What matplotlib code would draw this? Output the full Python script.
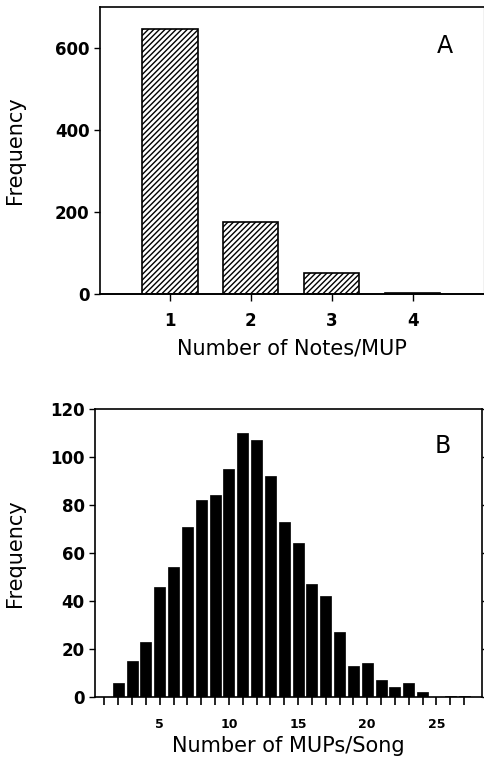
import numpy as np
import matplotlib
matplotlib.use("Agg")
import matplotlib.pyplot as plt

# panel A: notes per MUP
notes = [1, 2, 3, 4]
notes_freq = [646, 176, 51, 2]

# panel B: MUPs per song
mups = list(range(2, 28))
mups_freq = [6, 15, 23, 46, 54, 71, 82, 84, 95, 110, 107, 92, 73, 64,
             47, 42, 27, 13, 14, 7, 4, 6, 2, 0, 0.6, 0.6]

plt.rcParams['font.family'] = 'DejaVu Sans'
plt.rcParams['hatch.linewidth'] = 1.0

fig = plt.figure(figsize=(4.84, 7.67), dpi=100)

# ---- panel A
ax1 = fig.add_axes([0.2066, 0.6167, 0.7934, 0.3742])
ax1.bar(notes, notes_freq, width=0.68, color='white', edgecolor='black',
        hatch='//////', linewidth=1.2)
ax1.set_xlim(0.135, 4.88)
ax1.set_ylim(0, 700)
ax1.set_xticks(notes)
ax1.set_yticks([0, 200, 400, 600])
ax1.tick_params(axis='x', direction='out', length=5, width=1, labelsize=12, pad=8)
ax1.tick_params(axis='y', direction='out', length=4, width=1, labelsize=12,
                right=True, labelright=False)
for lab in ax1.get_xticklabels() + ax1.get_yticklabels():
    lab.set_fontweight('bold')
ax1.set_xlabel('Number of Notes/MUP', fontsize=15, labelpad=6)
ax1.set_ylabel('Frequency', fontsize=15)
ax1.yaxis.set_label_coords(-0.195, 0.5)
ax1.text(0.898, 0.864, 'A', transform=ax1.transAxes, fontsize=17,
         ha='center', va='center')
ax1.spines['left'].set_linewidth(1.2)
ax1.spines['bottom'].set_linewidth(1.4)
ax1.spines['top'].set_linewidth(1.2)

# ---- panel B
ax2 = fig.add_axes([0.1963, 0.0913, 0.7997, 0.3755])
ax2.bar(mups, mups_freq, width=0.8, color='black', edgecolor='black', linewidth=0.5)
ax2.set_xlim(0.32, 28.3)
ax2.set_ylim(0, 120)
ax2.set_xticks([5, 10, 15, 20, 25])
ax2.set_xticks(np.arange(1, 28), minor=True)
ax2.set_yticks(np.arange(0, 121, 20))
ax2.tick_params(axis='x', which='both', direction='out', length=6, width=1.2,
                labelsize=9, pad=9)
ax2.tick_params(axis='y', direction='out', length=4, width=1, labelsize=12,
                right=True, labelright=False)
for lab in ax2.get_xticklabels() + ax2.get_yticklabels():
    lab.set_fontweight('bold')
ax2.set_xlabel('Number of MUPs/Song', fontsize=15, labelpad=4)
ax2.set_ylabel('Frequency', fontsize=15)
ax2.yaxis.set_label_coords(-0.181, 0.5)
ax2.text(0.899, 0.871, 'B', transform=ax2.transAxes, fontsize=17,
         ha='center', va='center')
for s in ax2.spines.values():
    s.set_linewidth(1.2)

fig.savefig('out.png', dpi=100)
